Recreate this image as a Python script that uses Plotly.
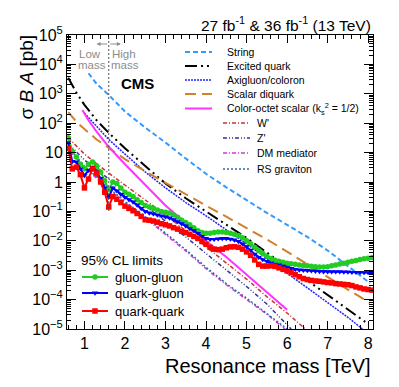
import plotly.graph_objects as go

FONT = "Liberation Sans, Arial, Helvetica, sans-serif"

# ---- limits (95% CL, pb) -------------------------------------------------
mass = [0.6, 0.7, 0.8, 0.9, 1.0, 1.1, 1.2, 1.3, 1.4, 1.5,
        1.6, 1.7, 1.8, 1.9, 2.0, 2.1, 2.2, 2.3, 2.4, 2.5,
        2.6, 2.7, 2.8, 2.9, 3.0, 3.1, 3.2, 3.3, 3.4, 3.5,
        3.6, 3.7, 3.8, 3.9, 4.0, 4.1, 4.2, 4.3, 4.4, 4.5,
        4.6, 4.7, 4.8, 4.9, 5.0, 5.1, 5.2, 5.3, 5.4, 5.5,
        5.6, 5.7, 5.8, 5.9, 6.0, 6.1, 6.2, 6.3, 6.4, 6.5,
        6.6, 6.7, 6.8, 6.9, 7.0, 7.1, 7.2, 7.3, 7.4, 7.5,
        7.6, 7.7, 7.8, 7.9, 8.0, 8.1]

limit_gg = [32, 11, 7.1, 4.0, 2.8, 4.0, 4.8, 3.5, 2.2, 1.1,
            0.54, 1.0, 0.89, 0.63, 0.45, 0.38, 0.32, 0.25, 0.20, 0.16,
            0.14, 0.126, 0.112, 0.10, 0.093, 0.089, 0.076, 0.063, 0.050, 0.042,
            0.035, 0.028, 0.022, 0.019, 0.018, 0.018, 0.019, 0.020, 0.020, 0.019,
            0.018, 0.0166, 0.0151, 0.0126, 0.010, 0.0079, 0.0060, 0.0047, 0.0037, 0.0030,
            0.0025, 0.0022, 0.0020, 0.00186, 0.00174, 0.00166, 0.00158, 0.00151, 0.00145, 0.00141,
            0.00135, 0.00132, 0.00129, 0.00129, 0.00132, 0.00141, 0.00151, 0.00162, 0.00174, 0.00186,
            0.0020, 0.00214, 0.00229, 0.00245, 0.00257, 0.00269]

limit_qg = [22, 5.0, 4.8, 2.8, 1.66, 2.5, 3.2, 2.2, 1.32, 0.63,
            0.30, 0.63, 0.50, 0.38, 0.30, 0.25, 0.21, 0.166, 0.126, 0.10,
            0.089, 0.083, 0.076, 0.071, 0.066, 0.060, 0.052, 0.045, 0.038, 0.032,
            0.026, 0.022, 0.018, 0.0141, 0.0120, 0.0112, 0.0112, 0.0117, 0.0120, 0.0120,
            0.0115, 0.0107, 0.0095, 0.0079, 0.0063, 0.0048, 0.0035, 0.00275, 0.00229, 0.0020,
            0.00178, 0.00162, 0.00151, 0.00138, 0.00126, 0.00115, 0.00107, 0.00102, 0.00100, 0.00098,
            0.00095, 0.00093, 0.00091, 0.00089, 0.00089, 0.00089, 0.00089, 0.00089, 0.00087, 0.00087,
            0.00085, 0.00085, 0.00085, 0.00083, 0.00083, 0.00083]

limit_qq = [14, 2.8, 3.2, 1.78, 0.63, 1.26, 2.8, 2.0, 1.0, 0.45,
            0.141, 0.32, 0.26, 0.20, 0.151, 0.126, 0.105, 0.085, 0.068, 0.052,
            0.050, 0.047, 0.043, 0.038, 0.035, 0.032, 0.028, 0.025, 0.021, 0.019,
            0.0166, 0.0141, 0.0120, 0.0095, 0.0076, 0.0060, 0.0052, 0.0050, 0.0052, 0.0058,
            0.0062, 0.0063, 0.0060, 0.0052, 0.0042, 0.0032, 0.00224, 0.00158, 0.00138, 0.00138,
            0.00141, 0.00135, 0.0012, 0.00107, 0.00095, 0.00083, 0.00071, 0.0006, 0.00052, 0.00048,
            0.00045, 0.00043, 0.00042, 0.0004, 0.00038, 0.00037, 0.00035, 0.00034, 0.00033, 0.00032,
            0.0003, 0.00027, 0.00025, 0.00023, 0.00022, 0.00021]

# ---- model predictions (pb) ----------------------------------------------
string_m = [1.1, 1.3, 1.6, 2.0, 2.5, 3.0, 3.5, 4.0, 4.5, 5.0, 5.5, 6.0, 6.5, 7.0, 7.5, 8.05]
string_xs = [5.0e3, 2.2e3, 9.1e2, 2.5e2, 71, 22, 6.3, 1.9, 0.66, 0.24, 0.089, 0.035,
             0.0135, 0.0047, 0.0014, 0.00036]

exq_m = [0.6, 0.8, 1.0, 1.3, 1.6, 2.0, 2.5, 3.0, 3.5, 4.0, 4.5, 5.0, 5.5, 6.0, 6.5, 7.0, 7.5, 7.93]
exq_xs = [3.5e3, 1.1e3, 4.2e2, 1.26e2, 47, 14, 3.5, 0.89, 0.28, 0.10, 0.035, 0.0126,
          0.0040, 0.00126, 0.00045, 1.41e-4, 4.47e-5, 1.74e-5]

axi_m = [1.0, 1.6, 2.0, 2.5, 3.0, 3.5, 4.0, 4.5, 5.0, 5.5, 6.0, 6.5, 7.0, 7.5, 7.86]
axi_xs = [2.2e2, 28, 8.9, 2.2, 0.63, 0.20, 0.071, 0.024, 0.0079, 0.0025, 7.9e-4, 2.5e-4,
          7.9e-5, 2.5e-5, 1.0e-5]

diq_m = [0.6, 0.8, 1.0, 1.3, 1.6, 2.0, 2.5, 3.0, 3.5, 4.0, 4.5, 5.0, 5.5, 6.0, 6.5, 7.0, 7.5, 8.05]
diq_xs = [2.4e2, 1.12e2, 63, 28, 14.5, 6.0, 2.3, 0.93, 0.38, 0.158, 0.066, 0.028,
          0.0112, 0.0043, 0.00158, 6.0e-4, 2.2e-4, 7.6e-5]

cos_m = [0.95, 1.1, 1.3, 1.6, 2.0, 2.5, 3.0, 3.5, 4.0, 4.5, 5.0, 5.5, 6.0]
cos_xs = [2.8e2, 1.26e2, 52, 15.8, 4.0, 0.79, 0.158, 0.040, 0.010, 0.0028, 7.1e-4,
          1.78e-4, 4.5e-5]

wp_m = [0.6, 1.0, 1.6, 2.0, 2.5, 3.0, 3.5, 4.0, 4.5, 5.0, 5.5, 6.0, 6.45]
wp_xs = [32, 8.9, 2.0, 0.79, 0.24, 0.076, 0.022, 0.0063, 0.00178, 5.0e-4, 1.26e-4,
         3.5e-5, 1.0e-5]

zp_m = [0.6, 1.0, 1.6, 2.0, 2.5, 3.0, 3.5, 4.0, 4.5, 5.0, 5.5, 6.1]
zp_xs = [20, 5.6, 1.26, 0.50, 0.151, 0.047, 0.0135, 0.0038, 0.00105, 2.8e-4, 7.1e-5, 1.0e-5]

dm_m = [0.6, 1.0, 1.6, 2.0, 2.5, 3.0, 3.5, 4.0, 4.5, 5.0, 5.5, 5.95]
dm_xs = [12.6, 3.2, 0.56, 0.20, 0.060, 0.0166, 0.0045, 0.00112, 3.2e-4, 1.0e-4, 3.2e-5, 1.0e-5]

rs_m = [0.6, 1.0, 1.6, 2.0, 2.5, 3.0, 3.5, 4.0, 4.5, 5.0, 5.5, 6.0]
rs_xs = [15.8, 3.5, 0.63, 0.22, 0.066, 0.018, 0.005, 0.00126, 3.5e-4, 1.12e-4, 3.4e-5, 1.0e-5]

ytick_vals = [1e-5, 1e-4, 1e-3, 1e-2, 1e-1, 1, 10, 1e2, 1e3, 1e4, 1e5]
ytick_text = ["10<sup>\u22125</sup>", "10<sup>\u22124</sup>", "10<sup>\u22123</sup>",
              "10<sup>\u22122</sup>", "10<sup>\u22121</sup>", "1", "10",
              "10<sup>2</sup>", "10<sup>3</sup>", "10<sup>4</sup>", "10<sup>5</sup>"]

# plot frame in pixels of the 399x387 window; the page body adds an 8px offset
L, R, T, B = 67, 373, 35, 329
OFF = 8


def px(x):
    return (x - L) / (R - L)


def py(y):
    return (B - y) / (B - T)


models = [
    # name, masses, xs, colour, width, dash, legend block, legend row y(px)
    ("String", string_m, string_xs, "#3399FF", 2, "5px,3px", 0, 52),
    ("Excited quark", exq_m, exq_xs, "black", 2, "12px,4px,2px,4px,2px,4px", 0, 66),
    ("Axigluon/coloron", axi_m, axi_xs, "#2222FF", 1.5, "2px,1px", 0, 80),
    ("Scalar diquark", diq_m, diq_xs, "#D2802E", 2, "11px,6px", 0, 94),
    ("Color-octet scalar (k<sub>s</sub><sup>2</sup> = 1/2)", cos_m, cos_xs, "#FF33FF", 2,
     "solid", 0, 108.5),
    ("W'", wp_m, wp_xs, "#CC3333", 1.5, "4px,2px,1px,2px", 1, 123),
    ("Z'", zp_m, zp_xs, "#333399", 1.5, "4px,2px,1px,2px,1px,2px", 1, 138),
    ("DM mediator", dm_m, dm_xs, "#DD33DD", 1.5, "4px,2px,1px,2px", 1, 153),
    ("RS graviton", rs_m, rs_xs, "#3366AA", 1.5, "2px,2px", 1, 169),
]

limits = [
    ("gluon-gluon", limit_gg, "#22CC22", "circle", 277),
    ("quark-gluon", limit_qg, "#0000FF", "triangle-down", 293),
    ("quark-quark", limit_qq, "#FF0000", "square", 311),
]

fig = go.Figure()

for name, m, xs, col, w, dash, blk, row in models:
    fig.add_trace(go.Scatter(x=m, y=xs, mode="lines", showlegend=False, hoverinfo="skip",
                             line=dict(color=col, width=w, dash=dash)))

for name, ys, col, sym, row in limits:
    fig.add_trace(go.Scatter(x=mass, y=ys, mode="lines+markers", showlegend=False,
                             hoverinfo="skip", line=dict(color=col, width=2),
                             marker=dict(color=col, symbol=sym, size=5.5)))

annotations = []

# legend keys drawn on an overlay axis measured in pixels inside the frame
for name, m, xs, col, w, dash, blk, row in models:
    x0, x1, tx = (185, 212, 225) if blk == 0 else (223, 250, 255)
    fig.add_trace(go.Scatter(x=[x0 - L, x1 - L], y=[row - T, row - T], xaxis="x2", yaxis="y2",
                             mode="lines", showlegend=False, hoverinfo="skip",
                             line=dict(color=col, width=w, dash=dash)))
    annotations.append(dict(x=px(tx), y=py(row), xref="paper", yref="paper", text=name,
                            showarrow=False, xanchor="left", yanchor="middle",
                            font=dict(size=10.5, color="black", family=FONT)))

for name, ys, col, sym, row in limits:
    fig.add_trace(go.Scatter(x=[82 - L, 108 - L], y=[row - T, row - T], xaxis="x2", yaxis="y2",
                             mode="lines", showlegend=False, hoverinfo="skip",
                             line=dict(color=col, width=2)))
    fig.add_trace(go.Scatter(x=[95 - L], y=[row - T], xaxis="x2", yaxis="y2",
                             mode="markers", showlegend=False, hoverinfo="skip",
                             marker=dict(color=col, symbol=sym, size=5.5)))
    annotations.append(dict(x=px(113), y=py(row), xref="paper", yref="paper", text=name,
                            showarrow=False, xanchor="left", yanchor="middle",
                            font=dict(size=13, color="black", family=FONT)))

annotations += [
    dict(x=px(79), y=py(260), xref="paper", yref="paper", text="95% CL limits",
         showarrow=False, xanchor="left", yanchor="middle",
         font=dict(size=13.5, color="black", family=FONT)),
    dict(x=1, y=py(24), xref="paper", yref="paper",
         text="27 fb<sup>-1</sup> & 36 fb<sup>-1</sup> (13 TeV)",
         showarrow=False, xanchor="right", yanchor="middle",
         font=dict(size=15.5, color="black", family=FONT)),
    dict(x=px(137), y=py(84), xref="paper", yref="paper", text="<b>CMS</b>",
         showarrow=False, xanchor="center", yanchor="middle",
         font=dict(size=15, color="black", family=FONT)),
    dict(x=1, y=py(366), xref="paper", yref="paper", text="Resonance mass [TeV]",
         showarrow=False, xanchor="right", yanchor="middle",
         font=dict(size=20, color="black", family=FONT)),
    dict(x=px(26), y=py(33), xref="paper", yref="paper",
         text="\u03c3 <i>B</i> <i>A</i> [pb]", textangle=-90,
         showarrow=False, xanchor="center", yanchor="top",
         font=dict(size=19, color="black", family=FONT)),
    dict(x=px(90), y=py(54), xref="paper", yref="paper", text="Low",
         showarrow=False, xanchor="center", yanchor="middle",
         font=dict(size=11.5, color="#8C8C8C", family=FONT)),
    dict(x=px(92), y=py(65), xref="paper", yref="paper", text="mass",
         showarrow=False, xanchor="center", yanchor="middle",
         font=dict(size=11.5, color="#8C8C8C", family=FONT)),
    dict(x=px(124), y=py(54), xref="paper", yref="paper", text="High",
         showarrow=False, xanchor="center", yanchor="middle",
         font=dict(size=11.5, color="#8C8C8C", family=FONT)),
    dict(x=px(125), y=py(65), xref="paper", yref="paper", text="mass",
         showarrow=False, xanchor="center", yanchor="middle",
         font=dict(size=11.5, color="#8C8C8C", family=FONT)),
    # low/high mass arrows
    dict(x=1.3, y=py(44), xref="x", yref="paper", ax=1.6, ay=0, axref="x", ayref="pixel",
         text="", showarrow=True, arrowhead=2, arrowsize=0.8, arrowwidth=1,
         arrowcolor="#8C8C8C"),
    dict(x=1.9, y=py(44), xref="x", yref="paper", ax=1.6, ay=0, axref="x", ayref="pixel",
         text="", showarrow=True, arrowhead=2, arrowsize=0.8, arrowwidth=1,
         arrowcolor="#8C8C8C"),
]

axis_common = dict(
    showline=True, linecolor="black", linewidth=1, mirror="allticks",
    ticks="inside", tickcolor="black", tickwidth=1, showgrid=False, zeroline=False,
    tickfont=dict(size=16, color="black", family=FONT),
)

fig.update_layout(
    width=399 - OFF,
    height=387 - OFF,
    margin=dict(l=L - OFF, r=399 - R, t=T - OFF, b=387 - B),
    plot_bgcolor="white",
    paper_bgcolor="white",
    xaxis=dict(range=[0.57, 8.12], tick0=0, dtick=1, ticklen=8,
               minor=dict(dtick=0.2, ticks="inside", ticklen=4, tickcolor="black"),
               **axis_common),
    yaxis=dict(type="log", range=[-5, 5], tickvals=ytick_vals, ticktext=ytick_text, ticklen=9,
               minor=dict(dtick="D1", ticks="inside", ticklen=4, tickcolor="black"),
               **axis_common),
    xaxis2=dict(range=[0, R - L], overlaying="x", anchor="y2", visible=False, fixedrange=True),
    yaxis2=dict(range=[B - T, 0], overlaying="y", anchor="x2", visible=False, fixedrange=True),
    shapes=[dict(type="line", xref="x", yref="paper", x0=1.6, x1=1.6, y0=py(211), y1=1,
                 line=dict(color="#555555", width=1, dash="2px,2px"))],
    annotations=annotations,
    showlegend=False,
)

fig.write_html("out.html")
